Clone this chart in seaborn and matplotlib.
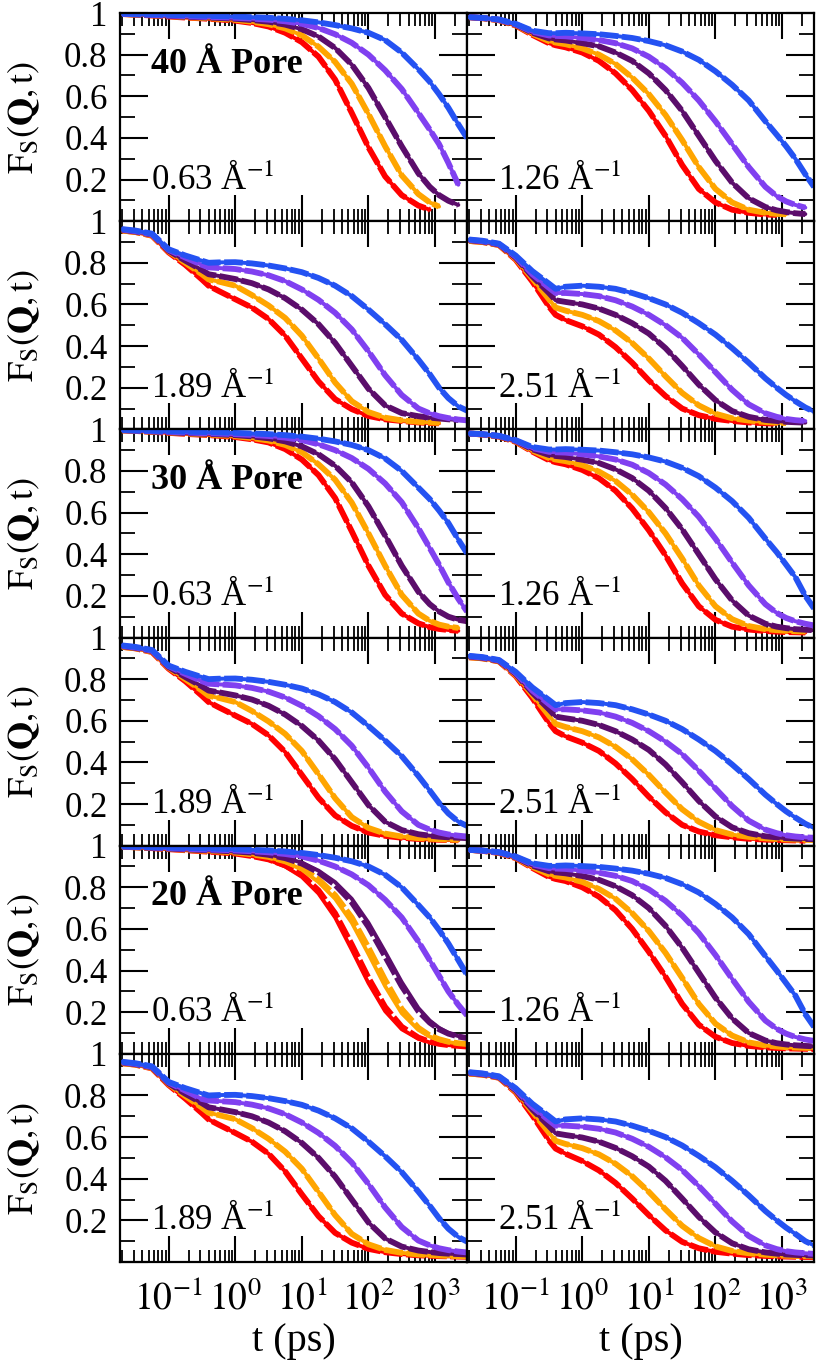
import numpy as np
import matplotlib
matplotlib.use("Agg")
import matplotlib.pyplot as plt
import seaborn as sns
from matplotlib.ticker import LogLocator, FixedLocator, FuncFormatter, NullFormatter, MultipleLocator

N = None
# time grid (ps)
T_PS = [0.02, 0.0316, 0.0562, 0.1, 0.178, 0.316, 0.398, 0.562, 1.0, 1.78, 3.16, 5.62,
        10.0, 17.8, 31.6, 56.2, 100.0, 178.0, 316.0, 562.0, 832.0, 1150.0, 1585.0, 2239.0, 3020.0]

SERIES = ["red", "orange", "purple", "violet", "blue"]
COLORS = ["#ff0000", "#ffa500", "#5b0d6b", "#8040f0", "#2452f2"]

# ---- 40 A pore ----
P40_Q063_RED = [0.995, 0.992, 0.988, 0.983, 0.978, 0.974, 0.972, 0.969, 0.963, 0.952, 0.935, 0.905, 0.86, 0.79, 0.68, 0.52, 0.355, 0.215, 0.125, 0.075, 0.055, N, N, N, N]
P40_Q063_ORANGE = [0.995, 0.992, 0.989, 0.985, 0.98, 0.976, 0.975, 0.972, 0.967, 0.958, 0.946, 0.926, 0.893, 0.838, 0.765, 0.66, 0.515, 0.36, 0.22, 0.13, 0.09, 0.07, N, N, N]
P40_Q063_PURPLE = [0.996, 0.993, 0.99, 0.986, 0.982, 0.979, 0.978, 0.976, 0.972, 0.966, 0.958, 0.944, 0.922, 0.887, 0.832, 0.752, 0.64, 0.5, 0.36, 0.23, 0.165, 0.125, 0.098, 0.078, N]
P40_Q063_VIOLET = [0.996, 0.994, 0.991, 0.988, 0.985, 0.982, 0.981, 0.98, 0.977, 0.973, 0.968, 0.96, 0.948, 0.928, 0.898, 0.857, 0.8, 0.725, 0.635, 0.52, 0.44, 0.37, 0.28, 0.175, N]
P40_Q063_BLUE = [0.997, 0.995, 0.993, 0.991, 0.989, 0.987, 0.986, 0.985, 0.983, 0.98, 0.977, 0.972, 0.965, 0.955, 0.942, 0.926, 0.905, 0.87, 0.81, 0.73, 0.67, 0.61, 0.545, 0.465, 0.4]

P40_Q126_RED = [0.98, 0.975, 0.965, 0.94, 0.895, 0.855, 0.845, 0.835, 0.81, 0.77, 0.71, 0.63, 0.53, 0.41, 0.27, 0.155, 0.09, 0.055, 0.04, 0.032, 0.03, N, N, N, N]
P40_Q126_ORANGE = [0.98, 0.975, 0.966, 0.942, 0.9, 0.865, 0.858, 0.85, 0.83, 0.8, 0.755, 0.69, 0.61, 0.51, 0.39, 0.26, 0.155, 0.09, 0.055, 0.04, 0.035, 0.033, N, N, N]
P40_Q126_PURPLE = [0.98, 0.976, 0.967, 0.944, 0.905, 0.878, 0.873, 0.868, 0.855, 0.84, 0.81, 0.77, 0.71, 0.63, 0.53, 0.41, 0.29, 0.185, 0.11, 0.068, 0.052, 0.044, 0.038, 0.034, N]
P40_Q126_VIOLET = [0.98, 0.976, 0.968, 0.946, 0.91, 0.892, 0.89, 0.888, 0.88, 0.87, 0.855, 0.83, 0.79, 0.735, 0.665, 0.58, 0.48, 0.37, 0.26, 0.165, 0.12, 0.095, 0.078, 0.065, N]
P40_Q126_BLUE = [0.98, 0.977, 0.969, 0.948, 0.915, 0.903, 0.903, 0.905, 0.902, 0.898, 0.89, 0.88, 0.865, 0.845, 0.815, 0.775, 0.72, 0.655, 0.58, 0.48, 0.415, 0.36, 0.3, 0.225, 0.165]

P40_Q189_RED = [0.955, 0.948, 0.93, 0.85, 0.79, 0.72, 0.69, 0.665, 0.625, 0.585, 0.53, 0.45, 0.34, 0.23, 0.145, 0.097, 0.064, 0.048, 0.04, 0.033, 0.03, 0.029, N, N, N]
P40_Q189_ORANGE = [0.955, 0.948, 0.932, 0.855, 0.8, 0.745, 0.72, 0.71, 0.69, 0.645, 0.595, 0.535, 0.45, 0.34, 0.225, 0.135, 0.083, 0.056, 0.043, 0.036, 0.033, 0.031, N, N, N]
P40_Q189_PURPLE = [0.958, 0.95, 0.935, 0.858, 0.81, 0.765, 0.745, 0.737, 0.722, 0.702, 0.672, 0.63, 0.575, 0.505, 0.415, 0.305, 0.195, 0.115, 0.078, 0.063, 0.056, 0.052, 0.048, 0.045, N]
P40_Q189_VIOLET = [0.96, 0.952, 0.937, 0.862, 0.825, 0.79, 0.778, 0.775, 0.77, 0.758, 0.74, 0.712, 0.672, 0.622, 0.56, 0.48, 0.375, 0.26, 0.165, 0.1, 0.077, 0.063, 0.054, 0.047, 0.043]
P40_Q189_BLUE = [0.962, 0.955, 0.94, 0.865, 0.835, 0.81, 0.8, 0.802, 0.803, 0.797, 0.787, 0.773, 0.755, 0.727, 0.69, 0.64, 0.575, 0.505, 0.43, 0.335, 0.265, 0.2, 0.15, 0.11, 0.09]

P40_Q251_RED = [0.905, 0.9, 0.885, 0.815, 0.71, 0.59, 0.55, 0.525, 0.495, 0.455, 0.395, 0.32, 0.235, 0.16, 0.1, 0.068, 0.05, 0.04, 0.033, 0.029, 0.027, N, N, N, N]
P40_Q251_ORANGE = [0.905, 0.9, 0.886, 0.82, 0.725, 0.625, 0.585, 0.57, 0.55, 0.52, 0.475, 0.415, 0.34, 0.255, 0.175, 0.115, 0.075, 0.053, 0.042, 0.035, 0.032, 0.03, N, N, N]
P40_Q251_PURPLE = [0.908, 0.902, 0.888, 0.825, 0.735, 0.655, 0.62, 0.612, 0.6, 0.58, 0.55, 0.51, 0.46, 0.39, 0.305, 0.215, 0.14, 0.088, 0.06, 0.045, 0.04, 0.036, 0.034, 0.032, N]
P40_Q251_VIOLET = [0.91, 0.904, 0.89, 0.83, 0.745, 0.68, 0.655, 0.655, 0.65, 0.64, 0.62, 0.59, 0.55, 0.5, 0.44, 0.36, 0.275, 0.19, 0.12, 0.077, 0.06, 0.05, 0.044, 0.04, N]
P40_Q251_BLUE = [0.912, 0.906, 0.892, 0.835, 0.76, 0.7, 0.675, 0.685, 0.69, 0.685, 0.675, 0.655, 0.63, 0.6, 0.56, 0.51, 0.455, 0.39, 0.32, 0.245, 0.2, 0.165, 0.135, 0.105, 0.085]

# ---- 30 A pore ----
P30_Q063_RED = [0.995, 0.992, 0.988, 0.983, 0.978, 0.974, 0.972, 0.969, 0.963, 0.952, 0.937, 0.905, 0.855, 0.78, 0.67, 0.51, 0.345, 0.205, 0.115, 0.068, 0.05, 0.041, 0.036, 0.032, N]
P30_Q063_ORANGE = [0.995, 0.992, 0.989, 0.985, 0.98, 0.976, 0.975, 0.972, 0.967, 0.958, 0.946, 0.925, 0.89, 0.832, 0.758, 0.648, 0.5, 0.345, 0.205, 0.115, 0.08, 0.062, 0.052, 0.046, N]
P30_Q063_PURPLE = [0.996, 0.993, 0.99, 0.986, 0.982, 0.979, 0.978, 0.976, 0.972, 0.966, 0.957, 0.942, 0.918, 0.88, 0.825, 0.745, 0.63, 0.49, 0.345, 0.22, 0.16, 0.125, 0.1, 0.085, 0.078]
P30_Q063_VIOLET = [0.996, 0.994, 0.991, 0.988, 0.985, 0.982, 0.981, 0.98, 0.977, 0.973, 0.968, 0.96, 0.948, 0.928, 0.9, 0.862, 0.81, 0.74, 0.65, 0.525, 0.43, 0.35, 0.265, 0.185, 0.125]
P30_Q063_BLUE = [0.997, 0.995, 0.993, 0.991, 0.989, 0.987, 0.986, 0.985, 0.983, 0.98, 0.977, 0.972, 0.965, 0.955, 0.942, 0.925, 0.9, 0.86, 0.8, 0.72, 0.665, 0.61, 0.55, 0.47, 0.405]

P30_Q126_RED = [0.98, 0.975, 0.965, 0.94, 0.893, 0.852, 0.842, 0.832, 0.805, 0.765, 0.705, 0.62, 0.515, 0.395, 0.26, 0.15, 0.085, 0.052, 0.038, 0.031, 0.028, 0.026, 0.025, 0.024, N]
P30_Q126_ORANGE = [0.98, 0.975, 0.966, 0.942, 0.898, 0.862, 0.855, 0.847, 0.828, 0.797, 0.752, 0.686, 0.602, 0.5, 0.38, 0.25, 0.15, 0.088, 0.055, 0.04, 0.035, 0.032, 0.03, 0.029, N]
P30_Q126_PURPLE = [0.98, 0.976, 0.967, 0.944, 0.904, 0.877, 0.872, 0.867, 0.854, 0.838, 0.808, 0.766, 0.705, 0.622, 0.52, 0.4, 0.28, 0.178, 0.105, 0.066, 0.052, 0.045, 0.04, 0.037, 0.035]
P30_Q126_VIOLET = [0.98, 0.976, 0.968, 0.946, 0.91, 0.892, 0.89, 0.888, 0.88, 0.87, 0.855, 0.83, 0.79, 0.735, 0.665, 0.58, 0.475, 0.36, 0.25, 0.16, 0.118, 0.094, 0.078, 0.066, 0.058]
P30_Q126_BLUE = [0.98, 0.977, 0.969, 0.948, 0.915, 0.903, 0.903, 0.905, 0.902, 0.898, 0.89, 0.88, 0.865, 0.845, 0.815, 0.775, 0.72, 0.655, 0.575, 0.475, 0.41, 0.35, 0.29, 0.2, 0.14]

P30_Q189_RED = [0.955, 0.948, 0.93, 0.85, 0.79, 0.72, 0.69, 0.665, 0.625, 0.585, 0.53, 0.45, 0.34, 0.23, 0.145, 0.095, 0.063, 0.047, 0.038, 0.032, 0.03, 0.028, 0.027, 0.026, N]
P30_Q189_ORANGE = [0.955, 0.948, 0.932, 0.855, 0.8, 0.745, 0.72, 0.71, 0.69, 0.647, 0.597, 0.537, 0.455, 0.343, 0.228, 0.137, 0.085, 0.058, 0.044, 0.036, 0.033, 0.031, 0.029, 0.028, N]
P30_Q189_PURPLE = [0.958, 0.95, 0.935, 0.858, 0.81, 0.765, 0.745, 0.737, 0.722, 0.702, 0.672, 0.63, 0.575, 0.505, 0.415, 0.305, 0.195, 0.115, 0.075, 0.055, 0.048, 0.043, 0.04, 0.038, 0.036]
P30_Q189_VIOLET = [0.96, 0.952, 0.937, 0.862, 0.825, 0.79, 0.778, 0.775, 0.77, 0.758, 0.74, 0.712, 0.672, 0.622, 0.56, 0.48, 0.375, 0.26, 0.165, 0.1, 0.077, 0.063, 0.054, 0.048, 0.044]
P30_Q189_BLUE = [0.962, 0.955, 0.94, 0.865, 0.835, 0.81, 0.8, 0.802, 0.803, 0.797, 0.787, 0.773, 0.755, 0.727, 0.69, 0.64, 0.575, 0.505, 0.43, 0.335, 0.265, 0.205, 0.155, 0.115, 0.095]

P30_Q251_RED = [0.905, 0.9, 0.885, 0.815, 0.71, 0.59, 0.55, 0.525, 0.495, 0.455, 0.395, 0.32, 0.235, 0.16, 0.1, 0.068, 0.05, 0.04, 0.033, 0.029, 0.027, 0.026, 0.025, 0.024, N]
P30_Q251_ORANGE = [0.905, 0.9, 0.886, 0.82, 0.725, 0.625, 0.585, 0.57, 0.55, 0.52, 0.475, 0.415, 0.34, 0.255, 0.175, 0.115, 0.075, 0.053, 0.042, 0.035, 0.032, 0.03, 0.029, 0.028, 0.027]
P30_Q251_PURPLE = [0.908, 0.902, 0.888, 0.825, 0.735, 0.655, 0.62, 0.612, 0.6, 0.58, 0.55, 0.51, 0.46, 0.39, 0.305, 0.215, 0.14, 0.088, 0.06, 0.045, 0.04, 0.036, 0.034, 0.032, 0.031]
P30_Q251_VIOLET = [0.91, 0.904, 0.89, 0.83, 0.745, 0.68, 0.655, 0.655, 0.65, 0.64, 0.62, 0.59, 0.55, 0.5, 0.44, 0.36, 0.275, 0.19, 0.12, 0.077, 0.06, 0.05, 0.044, 0.04, 0.038]
P30_Q251_BLUE = [0.912, 0.906, 0.892, 0.835, 0.76, 0.7, 0.675, 0.685, 0.69, 0.685, 0.675, 0.655, 0.63, 0.6, 0.56, 0.51, 0.455, 0.39, 0.32, 0.245, 0.2, 0.165, 0.135, 0.105, 0.085]

# ---- 20 A pore ----
P20_Q063_RED = [0.995, 0.992, 0.988, 0.983, 0.978, 0.973, 0.971, 0.968, 0.962, 0.95, 0.932, 0.9, 0.85, 0.77, 0.655, 0.5, 0.34, 0.205, 0.118, 0.072, 0.055, 0.047, 0.042, 0.038, 0.035]
P20_Q063_ORANGE = [0.995, 0.992, 0.989, 0.985, 0.98, 0.976, 0.975, 0.972, 0.967, 0.958, 0.945, 0.922, 0.885, 0.825, 0.745, 0.63, 0.48, 0.325, 0.195, 0.115, 0.083, 0.066, 0.056, 0.05, 0.046]
P20_Q063_PURPLE = [0.996, 0.993, 0.99, 0.986, 0.982, 0.979, 0.978, 0.976, 0.972, 0.966, 0.957, 0.942, 0.918, 0.88, 0.825, 0.745, 0.63, 0.49, 0.345, 0.22, 0.16, 0.125, 0.1, 0.085, 0.078]
P20_Q063_VIOLET = [0.996, 0.994, 0.991, 0.988, 0.985, 0.982, 0.981, 0.98, 0.977, 0.973, 0.968, 0.96, 0.948, 0.928, 0.9, 0.862, 0.81, 0.74, 0.655, 0.54, 0.45, 0.375, 0.3, 0.235, 0.185]
P20_Q063_BLUE = [0.997, 0.995, 0.993, 0.991, 0.989, 0.987, 0.986, 0.985, 0.983, 0.98, 0.977, 0.972, 0.965, 0.955, 0.942, 0.925, 0.9, 0.86, 0.8, 0.715, 0.655, 0.595, 0.53, 0.45, 0.38]
# dashed curves that visibly separate from the solid ones (20 A, 0.63)
P20_Q063_RED_DASH = [0.995, 0.992, 0.988, 0.983, 0.978, 0.973, 0.971, 0.968, 0.962, 0.95, 0.934, 0.905, 0.86, 0.785, 0.675, 0.525, 0.365, 0.225, 0.13, 0.078, 0.058, 0.048, 0.042, 0.038, 0.035]
P20_Q063_ORANGE_DASH = [0.995, 0.992, 0.989, 0.985, 0.98, 0.976, 0.975, 0.972, 0.967, 0.958, 0.946, 0.925, 0.892, 0.838, 0.762, 0.655, 0.51, 0.355, 0.215, 0.125, 0.088, 0.07, 0.058, 0.051, 0.047]
P20_Q063_PURPLE_DASH = [0.996, 0.993, 0.99, 0.986, 0.982, 0.979, 0.978, 0.976, 0.972, 0.966, 0.956, 0.94, 0.914, 0.872, 0.812, 0.728, 0.61, 0.468, 0.325, 0.205, 0.15, 0.118, 0.097, 0.083, 0.076]

P20_Q126_RED = [0.98, 0.975, 0.965, 0.94, 0.893, 0.85, 0.84, 0.83, 0.8, 0.755, 0.69, 0.6, 0.49, 0.37, 0.24, 0.14, 0.082, 0.052, 0.038, 0.031, 0.028, 0.026, 0.025, 0.024, 0.023]
P20_Q126_ORANGE = [0.98, 0.975, 0.966, 0.942, 0.898, 0.862, 0.855, 0.847, 0.826, 0.792, 0.745, 0.676, 0.59, 0.485, 0.365, 0.24, 0.145, 0.088, 0.055, 0.04, 0.035, 0.032, 0.03, 0.029, 0.028]
P20_Q126_PURPLE = [0.98, 0.976, 0.967, 0.944, 0.904, 0.877, 0.872, 0.867, 0.854, 0.836, 0.805, 0.762, 0.7, 0.615, 0.51, 0.39, 0.27, 0.17, 0.1, 0.064, 0.051, 0.045, 0.041, 0.038, 0.036]
P20_Q126_VIOLET = [0.98, 0.976, 0.968, 0.946, 0.91, 0.892, 0.89, 0.888, 0.88, 0.87, 0.855, 0.83, 0.79, 0.735, 0.665, 0.58, 0.475, 0.36, 0.25, 0.16, 0.12, 0.097, 0.081, 0.069, 0.062]
P20_Q126_BLUE = [0.98, 0.977, 0.969, 0.948, 0.915, 0.903, 0.903, 0.905, 0.902, 0.898, 0.89, 0.88, 0.865, 0.845, 0.815, 0.775, 0.72, 0.655, 0.575, 0.47, 0.4, 0.34, 0.28, 0.19, 0.13]

P20_Q189_RED = [0.955, 0.948, 0.93, 0.85, 0.785, 0.715, 0.685, 0.66, 0.62, 0.578, 0.52, 0.435, 0.325, 0.22, 0.14, 0.093, 0.063, 0.047, 0.038, 0.032, 0.03, 0.028, 0.027, 0.026, 0.025]
P20_Q189_ORANGE = [0.955, 0.948, 0.932, 0.855, 0.797, 0.742, 0.717, 0.706, 0.686, 0.643, 0.592, 0.53, 0.448, 0.337, 0.225, 0.135, 0.085, 0.058, 0.044, 0.036, 0.033, 0.031, 0.029, 0.028, 0.027]
P20_Q189_PURPLE = [0.958, 0.95, 0.935, 0.858, 0.808, 0.763, 0.743, 0.735, 0.72, 0.7, 0.67, 0.628, 0.572, 0.5, 0.41, 0.3, 0.19, 0.113, 0.074, 0.055, 0.048, 0.043, 0.04, 0.038, 0.036]
P20_Q189_VIOLET = [0.96, 0.952, 0.937, 0.862, 0.823, 0.783, 0.776, 0.773, 0.768, 0.756, 0.738, 0.71, 0.67, 0.62, 0.558, 0.478, 0.375, 0.262, 0.168, 0.103, 0.08, 0.066, 0.057, 0.05, 0.046]
P20_Q189_BLUE = [0.962, 0.955, 0.94, 0.865, 0.835, 0.81, 0.8, 0.802, 0.803, 0.797, 0.787, 0.773, 0.755, 0.727, 0.69, 0.642, 0.578, 0.508, 0.432, 0.338, 0.27, 0.21, 0.16, 0.12, 0.098]

P20_Q251_RED = [0.905, 0.9, 0.885, 0.815, 0.705, 0.585, 0.545, 0.52, 0.485, 0.44, 0.38, 0.305, 0.225, 0.152, 0.097, 0.066, 0.049, 0.04, 0.033, 0.029, 0.027, 0.026, 0.025, 0.024, 0.023]
P20_Q251_ORANGE = [0.905, 0.9, 0.886, 0.82, 0.722, 0.622, 0.582, 0.567, 0.547, 0.517, 0.472, 0.412, 0.337, 0.253, 0.174, 0.115, 0.075, 0.053, 0.042, 0.035, 0.032, 0.03, 0.029, 0.028, 0.027]
P20_Q251_PURPLE = [0.908, 0.902, 0.888, 0.825, 0.733, 0.653, 0.618, 0.61, 0.598, 0.578, 0.548, 0.508, 0.458, 0.39, 0.305, 0.217, 0.142, 0.09, 0.061, 0.046, 0.04, 0.036, 0.034, 0.032, 0.031]
P20_Q251_VIOLET = [0.91, 0.904, 0.89, 0.83, 0.745, 0.68, 0.655, 0.655, 0.65, 0.64, 0.622, 0.592, 0.553, 0.503, 0.442, 0.365, 0.28, 0.195, 0.125, 0.08, 0.062, 0.052, 0.046, 0.042, 0.039]
P20_Q251_BLUE = [0.912, 0.906, 0.892, 0.835, 0.76, 0.7, 0.675, 0.685, 0.69, 0.685, 0.675, 0.655, 0.63, 0.6, 0.56, 0.51, 0.455, 0.39, 0.32, 0.245, 0.2, 0.165, 0.135, 0.1, 0.08]

Q_LABELS = ["0.63", "1.26", "1.89", "2.51"]
PORE_LABELS = ["40 Å Pore", "30 Å Pore", "20 Å Pore"]
X_TICK_LABELS = {0.1: "$10^{-1}$", 1.0: "$10^{0}$", 10.0: "$10^{1}$", 100.0: "$10^{2}$", 1000.0: "$10^{3}$"}
Y_TICK_LABELS = {0.2: "0.2", 0.4: "0.4", 0.6: "0.6", 0.8: "0.8", 1.0: "1"}


def sset(*arrs):
    return list(arrs)


PANELS = {
    (0, 0): sset(P40_Q063_RED, P40_Q063_ORANGE, P40_Q063_PURPLE, P40_Q063_VIOLET, P40_Q063_BLUE),
    (0, 1): sset(P40_Q126_RED, P40_Q126_ORANGE, P40_Q126_PURPLE, P40_Q126_VIOLET, P40_Q126_BLUE),
    (1, 0): sset(P40_Q189_RED, P40_Q189_ORANGE, P40_Q189_PURPLE, P40_Q189_VIOLET, P40_Q189_BLUE),
    (1, 1): sset(P40_Q251_RED, P40_Q251_ORANGE, P40_Q251_PURPLE, P40_Q251_VIOLET, P40_Q251_BLUE),
    (2, 0): sset(P30_Q063_RED, P30_Q063_ORANGE, P30_Q063_PURPLE, P30_Q063_VIOLET, P30_Q063_BLUE),
    (2, 1): sset(P30_Q126_RED, P30_Q126_ORANGE, P30_Q126_PURPLE, P30_Q126_VIOLET, P30_Q126_BLUE),
    (3, 0): sset(P30_Q189_RED, P30_Q189_ORANGE, P30_Q189_PURPLE, P30_Q189_VIOLET, P30_Q189_BLUE),
    (3, 1): sset(P30_Q251_RED, P30_Q251_ORANGE, P30_Q251_PURPLE, P30_Q251_VIOLET, P30_Q251_BLUE),
    (4, 0): sset(P20_Q063_RED, P20_Q063_ORANGE, P20_Q063_PURPLE, P20_Q063_VIOLET, P20_Q063_BLUE),
    (4, 1): sset(P20_Q126_RED, P20_Q126_ORANGE, P20_Q126_PURPLE, P20_Q126_VIOLET, P20_Q126_BLUE),
    (5, 0): sset(P20_Q189_RED, P20_Q189_ORANGE, P20_Q189_PURPLE, P20_Q189_VIOLET, P20_Q189_BLUE),
    (5, 1): sset(P20_Q251_RED, P20_Q251_ORANGE, P20_Q251_PURPLE, P20_Q251_VIOLET, P20_Q251_BLUE),
}
DASHED = {key: list(val) for key, val in PANELS.items()}
DASHED[(4, 0)] = sset(P20_Q063_RED_DASH, P20_Q063_ORANGE_DASH, P20_Q063_PURPLE_DASH,
                      P20_Q063_VIOLET, P20_Q063_BLUE)

sns.set_theme(style="ticks")
plt.rcParams["font.family"] = ["Liberation Serif", "DejaVu Serif"]
plt.rcParams["mathtext.fontset"] = "stix"
for key in ["text.color", "axes.labelcolor", "xtick.color", "ytick.color", "axes.edgecolor"]:
    plt.rcParams[key] = "black"
plt.rcParams["axes.linewidth"] = 1.6

fig, axes = plt.subplots(6, 2, figsize=(8.16, 13.68), dpi=100)
fig.subplots_adjust(left=120 / 816, right=814 / 816, top=1 - 13 / 1368,
                    bottom=1 - 1262 / 1368, hspace=0, wspace=0)

t = np.array(T_PS, dtype=float)
FS = 25

for (r, c), solid in PANELS.items():
    ax = axes[r, c]
    dashed = DASHED[(r, c)]
    for k in range(len(SERIES)):
        ys = np.array(solid[k], dtype=float)
        m = ~np.isnan(ys)
        sns.lineplot(x=t[m], y=ys[m], ax=ax, color=COLORS[k], lw=2.8,
                     estimator=None, sort=False, legend=False)
        yd = np.array(dashed[k], dtype=float)
        md = ~np.isnan(yd)
        sns.lineplot(x=t[md], y=yd[md], ax=ax, color=COLORS[k], lw=4.2,
                     estimator=None, sort=False, legend=False)
        ax.lines[-1].set_dashes((3.2, 0.6))

    ax.set_xscale("log")
    ax.set_xlim(0.0186, 3020)
    ax.set_ylim(0, 1)
    ax.set_xlabel("")
    ax.set_ylabel("")

    ax.xaxis.set_major_locator(FixedLocator(list(X_TICK_LABELS.keys())))
    ax.xaxis.set_major_formatter(FuncFormatter(lambda v, p: X_TICK_LABELS.get(round(v, 6), "")))
    ax.xaxis.set_minor_locator(LogLocator(base=10, subs=np.arange(2, 10), numticks=30))
    ax.xaxis.set_minor_formatter(NullFormatter())
    ax.yaxis.set_major_locator(FixedLocator([0.0, 0.2, 0.4, 0.6, 0.8, 1.0]))
    ax.yaxis.set_major_formatter(FuncFormatter(lambda v, p: Y_TICK_LABELS.get(round(v, 3), "")))
    ax.yaxis.set_minor_locator(MultipleLocator(0.1))

    ax.tick_params(axis="x", which="major", direction="in", length=19, width=1.5,
                   color="black", top=True, bottom=True, labelsize=FS + 2, pad=14,
                   labelbottom=(r == 5))
    ax.tick_params(axis="x", which="minor", direction="in", length=9, width=1.3,
                   color="black", top=True, bottom=True)
    ax.tick_params(axis="y", which="major", direction="in", length=20, width=1.5,
                   color="black", left=True, right=True, labelsize=FS, pad=9,
                   labelleft=(c == 0))
    ax.tick_params(axis="y", which="minor", direction="in", length=11, width=1.3,
                   color="black", left=True, right=True)
    for s in ax.spines.values():
        s.set_visible(True)
        s.set_color("black")
        s.set_linewidth(1.6)

    qi = (r % 2) * 2 + c
    ax.text(0.09, 0.2, Q_LABELS[qi] + " Å$^{-1}$", transform=ax.get_yaxis_transform(),
            ha="left", va="center", fontsize=FS)
    if r % 2 == 0 and c == 0:
        ax.text(0.09, 0.755, PORE_LABELS[r // 2], transform=ax.get_yaxis_transform(),
                ha="left", va="center", fontsize=FS + 1, fontweight="bold")
    if c == 0:
        ax.set_ylabel(r"$\mathrm{F_S(}\mathbf{Q}\mathrm{,t)}$", fontsize=26)
        ax.yaxis.set_label_coords(-0.225, 0.5)
    if r == 5:
        ax.set_xlabel("t (ps)", fontsize=29, labelpad=4)

fig.savefig("out.png", dpi=100)
